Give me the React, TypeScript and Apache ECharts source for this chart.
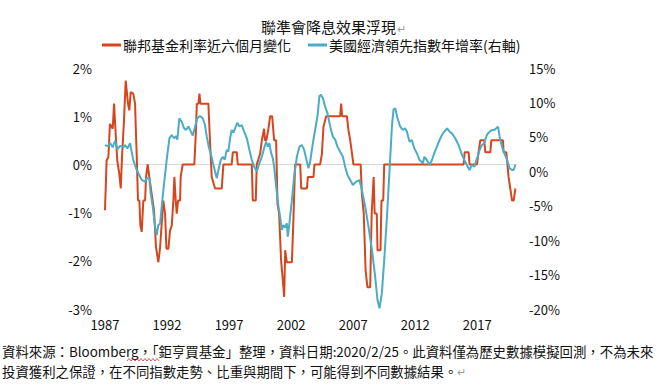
import React, { useEffect, useRef } from "react";
import * as echarts from "echarts";

const titleText = "聯準會降息效果浮現";
const fedName = "聯邦基金利率近六個月變化";
const leiName = "美國經濟領先指數年增率(右軸)";
const footLine1 = "資料來源：Bloomberg，「鉅亨買基金」整理，資料日期:2020/2/25。此資料僅為歷史數據模擬回測，不為未來";
const footLine2 = "投資獲利之保證，在不同指數走勢、比重與期間下，可能得到不同數據結果。";

const leftTicks = [-3, -2, -1, 0, 1, 2];
const rightTicks = [-20, -15, -10, -5, 0, 5, 10, 15];

// Fed funds rate, 6-month change (%), left axis
const fedDates = [
  1987.0, 1987.13, 1987.27, 1987.4, 1987.62, 1987.73, 1987.89, 1987.99, 1988.15, 1988.27,
  1988.37, 1988.53, 1988.67, 1988.85, 1988.96, 1989.07, 1989.28, 1989.42, 1989.55, 1989.66,
  1989.77, 1989.85, 1989.96, 1990.09, 1990.23, 1990.31, 1990.44, 1990.57, 1990.76, 1990.95,
  1991.11, 1991.3, 1991.44, 1991.57, 1991.7, 1991.84, 1991.95, 1992.11, 1992.24, 1992.38,
  1992.51, 1992.59, 1992.7, 1992.78, 1992.89, 1993.05, 1993.1, 1993.26, 1994.2, 1994.34,
  1994.4, 1994.53, 1994.61, 1994.69, 1995.33, 1995.47, 1995.6, 1995.87, 1996.41, 1996.54,
  1997.21, 1997.3, 1997.62, 1997.7, 1998.83, 1998.91, 1999.15, 1999.23, 1999.5, 1999.64,
  1999.82, 1999.9, 2000.0, 2000.17, 2000.31, 2000.47, 2000.63, 2000.79, 2000.9, 2001.03,
  2001.19, 2001.33, 2001.44, 2001.52, 2001.65, 2002.06, 2002.19, 2002.32, 2002.73, 2002.81,
  2003.27, 2003.35, 2003.8, 2003.88, 2004.34, 2004.48, 2004.6, 2004.82, 2005.95, 2006.03,
  2006.11, 2006.49, 2006.62, 2006.76, 2007.02, 2007.6, 2007.7, 2007.85, 2008.0, 2008.15,
  2008.37, 2008.49, 2008.65, 2008.73, 2008.9, 2008.96, 2009.2, 2009.28, 2009.42, 2009.5,
  2015.9, 2015.98, 2016.3, 2016.38, 2016.98, 2017.1, 2017.24, 2017.56, 2017.65, 2018.05,
  2018.13, 2019.07, 2019.12, 2019.34, 2019.52, 2019.66, 2019.8, 2019.93, 2020.07,
];
const fedValues = [
  -0.95, 0.08, 0.15, 0.84, 0.74, 1.26, 0.5, 0.08, -0.19, -0.5,
  0.15, 0.91, 1.74, 1.26, 1.12, 1.5, 1.47, 1.26, 0.22, -0.75,
  -0.75, -1.27, -1.4, -0.75, -0.75, -0.26, 0, -0.26, -0.61, -0.95,
  -1.72, -2.03, -1.72, -1.23, -0.75, -1.02, -1.75, -1.75, -1.37, -1.27,
  -0.75, -0.26, -0.75, -1.02, -0.75, -0.75, -0.26, 0, 0, 0.77,
  1.26, 1.26, 1.47, 1.26, 1.26, 0.43, -0.26, -0.5, -0.5, 0,
  0, 0.25, 0.25, 0, 0, -0.75, -0.75, 0, 0.22, 0.5,
  0.74, 0.5, 0.5, 0.74, 1.0, 1.0, 0.5, 0.5, -0.82, -1.02,
  -1.99, -2.41, -2.75, -1.78, -2.03, -2.03, -1.09, 0, 0, -0.5,
  -0.5, -0.26, -0.26, 0, 0, 0.22, 0.77, 1.0, 1.0, 1.26,
  1.0, 1.0, 0.71, 0.5, 0, 0, -0.61, -1.02, -2.2, -2.55,
  -2.55, -1.02, -0.26, -1.02, -1.02, -1.78, -1.78, -0.75, -0.75, 0,
  0, 0.25, 0.25, 0, 0, 0.25, 0.5, 0.5, 0.25, 0.25,
  0.5, 0.5, 0.25, 0.25, -0.26, -0.5, -0.75, -0.75, -0.5,
];

// US leading economic index, YoY (%), right axis
const leiDates = [
  1987.0, 1987.13, 1987.27, 1987.4, 1987.62, 1987.81, 1987.99, 1988.21, 1988.48, 1988.61,
  1988.8, 1989.02, 1989.15, 1989.28, 1989.5, 1989.69, 1989.96, 1990.23, 1990.36, 1990.57,
  1990.68, 1990.85, 1991.03, 1991.17, 1991.3, 1991.44, 1991.57, 1991.76, 1991.97, 1992.19,
  1992.38, 1992.56, 1992.73, 1992.83, 1992.99, 1993.18, 1993.37, 1993.53, 1993.72, 1993.91,
  1994.07, 1994.26, 1994.44, 1994.66, 1994.88, 1995.06, 1995.2, 1995.36, 1995.55, 1995.74,
  1995.87, 1996.01, 1996.14, 1996.33, 1996.49, 1996.65, 1996.81, 1996.94, 1997.08, 1997.21,
  1997.35, 1997.48, 1997.67, 1997.83, 1998.02, 1998.21, 1998.43, 1998.64, 1998.83, 1999.02,
  1999.23, 1999.44, 1999.64, 1999.82, 1999.98, 2000.12, 2000.25, 2000.36, 2000.52, 2000.63,
  2000.79, 2000.98, 2001.11, 2001.25, 2001.38, 2001.52, 2001.65, 2001.73, 2001.86, 2002.06,
  2002.24, 2002.46, 2002.67, 2002.86, 2003.05, 2003.27, 2003.4, 2003.53, 2003.75, 2003.93,
  2004.12, 2004.28, 2004.4, 2004.56, 2004.74, 2004.93, 2005.15, 2005.36, 2005.55, 2005.73,
  2005.95, 2006.17, 2006.35, 2006.54, 2006.76, 2006.98, 2007.24, 2007.51, 2007.7, 2007.97,
  2008.23, 2008.51, 2008.77, 2008.96, 2009.12, 2009.31, 2009.5, 2009.72, 2009.93, 2010.12,
  2010.25, 2010.39, 2010.57, 2010.79, 2011.0, 2011.19, 2011.33, 2011.54, 2011.73, 2011.92,
  2012.14, 2012.35, 2012.62, 2012.73, 2012.94, 2013.15, 2013.35, 2013.53, 2013.75, 2013.96,
  2014.15, 2014.34, 2014.56, 2014.77, 2014.96, 2015.22, 2015.49, 2015.77, 2015.95, 2016.16,
  2016.38, 2016.56, 2016.76, 2016.98, 2017.19, 2017.38, 2017.56, 2017.77, 2017.99, 2018.19,
  2018.37, 2018.53, 2018.67, 2018.8, 2018.99, 2019.18, 2019.4, 2019.6, 2019.8, 2019.93,
  2020.07,
];
const leiValues = [
  3.8, 3.7, 3.7, 4.15, 3.48, 4.44, 3.19, 3.7, 3.5, 3.82,
  3.3, 4.07, 2.85, 1.64, 0.44, -0.29, -1.26, -1.5, -1.0, -1.0,
  -3.2, -5.14, -8.05, -9.25, -7.8, -7.6, -5.14, -1.74, 1.64, 4.79,
  5.27, 4.8, 5.1, 4.6, 7.7, 7.2, 6.24, 6.0, 6.5, 5.8,
  5.2, 6.5, 7.7, 8.03, 7.7, 6.72, 5.03, 3.58, 2.37, 0.92,
  -0.05, -1.0, 0.19, 1.64, 2.1, 1.7, 3.1, 2.85, 4.79, 6.0,
  5.6, 6.24, 7.06, 6.5, 6.72, 5.75, 4.79, 3.1, 1.64, 0.67,
  -0.05, 1.16, 2.1, 3.34, 4.3, 3.58, 4.07, 2.85, 1.89, 0.67,
  -2.24, -5.14, -6.6, -8.5, -7.8, -8.2, -7.55, -9.5, -7.55, -4.17,
  -0.78, 2.1, 3.58, 3.82, 3.1, 1.4, 0.43, 1.4, 4.07, 6.0,
  7.94, 10.94, 11.1, 10.6, 9.38, 8.4, 6.48, 5.03, 4.6, 3.58,
  2.85, 2.1, 0.67, -0.54, -1.26, -2.0, -1.5, -1.3, -2.72, -5.14,
  -8.05, -11.4, -15.3, -18.7, -19.9, -17.7, -12.9, -6.6, 0.19, 6.48,
  9.0, 9.15, 7.7, 6.48, 6.0, 6.24, 5.75, 4.3, 4.55, 3.34,
  2.6, 1.64, 1.16, 2.1, 1.64, 0.92, 1.64, 2.6, 3.58, 4.55,
  5.27, 5.75, 6.24, 5.75, 5.5, 4.79, 3.82, 2.37, 1.64, 0.92,
  0.19, 0.92, 0.67, 1.9, 3.1, 3.82, 4.07, 5.27, 5.75, 6.0,
  6.0, 6.24, 6.48, 5.03, 3.58, 2.6, 1.64, 0.43, 0.19, 0.19,
  0.92,
];

const xTickYears = [1987, 1992, 1997, 2002, 2007, 2012, 2017];

const FONT = "'Noto Sans CJK TC', 'Noto Sans', sans-serif";
const RED = "#D5461E";
const BLUE = "#4BACC6";

export default function App() {
  const ref = useRef<HTMLDivElement>(null);

  useEffect(() => {
    if (!ref.current) return;
    const chart = echarts.init(ref.current, undefined, { renderer: "svg" });

    const fedData = fedDates.map((d, i) => [d, fedValues[i]]);
    const leiData = leiDates.map((d, i) => [d, leiValues[i]]);

    const wavy: number[][] = [];
    for (let i = 0; i <= 16; i++) wavy.push([127 + i * 2, i % 2 === 0 ? 361 : 358.5]);

    // only the 0% split line is visible, as in the reference
    const zeroLineColors = leftTicks.map((t) => (t === 0 ? "#D9D9D9" : "rgba(0,0,0,0)"));

    chart.setOption({
      animation: false,
      backgroundColor: "#ffffff",
      title: {
        text: "{a|" + titleText + "}{b|↵}",
        left: 256,
        top: 14,
        textStyle: {
          fontWeight: "normal",
          rich: {
            a: { fontSize: 15, color: "#111", fontFamily: FONT, fontWeight: "normal" },
            b: { fontSize: 11, color: "#9a9a9a", fontFamily: FONT, fontWeight: "normal", padding: [2, 0, 0, 1] },
          },
        },
      },
      legend: {
        left: 97,
        top: 33,
        itemWidth: 19,
        itemHeight: 3,
        itemGap: 17,
        icon: "rect",
        textStyle: { fontSize: 14, color: "#111", fontFamily: FONT, padding: [0, 0, 0, -3] },
        data: [fedName, leiName],
      },
      grid: { left: 105, right: 143, top: 68, bottom: 79 },
      xAxis: {
        type: "value",
        min: 1987,
        max: 2020.2,
        interval: 5,
        axisLine: { show: false },
        axisTick: { show: false },
        splitLine: { show: false },
        axisLabel: {
          fontSize: 13,
          color: "#111",
          fontFamily: FONT,
          margin: 9,
          showMaxLabel: false,
          formatter: (v: number) => (xTickYears.includes(Math.round(v)) ? String(Math.round(v)) : ""),
        },
      },
      yAxis: [
        {
          type: "value",
          min: leftTicks[0],
          max: leftTicks[leftTicks.length - 1],
          interval: 1,
          axisLine: { show: false },
          axisTick: { show: false },
          splitLine: { show: true, lineStyle: { color: zeroLineColors, width: 1 } },
          axisLabel: { fontSize: 13, color: "#111", fontFamily: FONT, margin: 13, formatter: "{value}%" },
        },
        {
          type: "value",
          min: rightTicks[0],
          max: rightTicks[rightTicks.length - 1],
          interval: 5,
          axisLine: { show: false },
          axisTick: { show: false },
          splitLine: { show: false },
          axisLabel: { fontSize: 13, color: "#111", fontFamily: FONT, margin: 12, formatter: "{value}%" },
        },
      ],
      series: [
        {
          name: fedName,
          type: "line",
          yAxisIndex: 0,
          data: fedData,
          showSymbol: false,
          symbol: "none",
          z: 2,
          itemStyle: { color: RED },
          lineStyle: { color: RED, width: 2 },
        },
        {
          name: leiName,
          type: "line",
          yAxisIndex: 1,
          data: leiData,
          showSymbol: false,
          symbol: "none",
          z: 3,
          itemStyle: { color: BLUE },
          lineStyle: { color: BLUE, width: 2 },
        },
      ],
      graphic: [
        {
          type: "text",
          left: 2,
          top: 344,
          style: { text: footLine1, fontSize: 13.4, fill: "#111", fontFamily: FONT },
        },
        {
          type: "polyline",
          shape: { points: wavy },
          style: { stroke: "#E0302A", lineWidth: 0.8, fill: "none" },
        },
        {
          type: "text",
          left: 2,
          top: 364,
          style: {
            text: "{a|" + footLine2 + "}{b|↵}",
            rich: {
              a: { fontSize: 13.4, fill: "#111", fontFamily: FONT },
              b: { fontSize: 11, fill: "#9a9a9a", fontFamily: FONT },
            },
          },
        },
      ],
    });

    return () => chart.dispose();
  }, []);

  return (
    <div
      ref={ref}
      style={{ position: "fixed", left: 0, top: 0, width: 660, height: 388, background: "#fff" }}
    />
  );
}
